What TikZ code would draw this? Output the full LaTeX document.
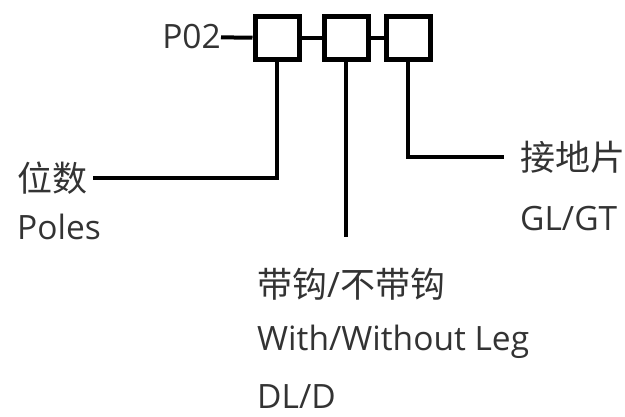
\documentclass[tikz,border=0pt]{standalone}
\usepackage{fontspec}
\setmainfont{Open Sans}
\newfontfamily\cjk{Noto Sans CJK SC}
\tikzset{
	slot/.style={draw, line width=5pt, minimum width=44pt, minimum height=43pt, inner sep=0pt},
	wire/.style={line width=4pt},
	lbl/.style={font=\fontsize{33.5}{36}\selectfont, inner sep=0pt, text=black!80},
	zh/.style={font=\cjk\fontsize{35}{36}\selectfont, inner sep=0pt, text=black!80}
}
\begin{document}
\begin{tikzpicture}[x=1pt,y=-1pt]
		\useasboundingbox (0,0) rectangle (625,416);
		\foreach \n/\x in {1/277,2/346,3/408} {
			\node[slot] (b\n) at (\x,38) {};
		}
		\node[lbl, anchor=east] (code) at (221,37) {P02};
		\node[zh, anchor=west] (poles) at (17,178) {位数};
		\node[lbl, anchor=west] (polesen) at (17,227) {Poles};
		\node[zh, anchor=west] (leg) at (257,284) {带钩{\rmfamily/}不带钩};
		\node[lbl, anchor=west] (legen) at (257,342) {With/Without Leg};
		\node[lbl, anchor=west] (legcode) at (257,397) {DL/D};
		\node[zh, anchor=west] (earth) at (520,157) {接地片};
		\node[lbl, anchor=west] (earthen) at (520,219) {GL/GT};
		\coordinate (legtip) at (346,237);
		\draw[wire] (code) -- (b1);
		\draw[wire] (b1) -- (b2);
		\draw[wire] (b2) -- (b3);
		\draw[wire] (poles.east) ++(6,0) -| (b1.south);
		\draw[wire] (b2.south) -- (legtip);
		\draw[wire] (b3.south) |- ([xshift=-16pt]earth.west);
	\end{tikzpicture}
\end{document}
